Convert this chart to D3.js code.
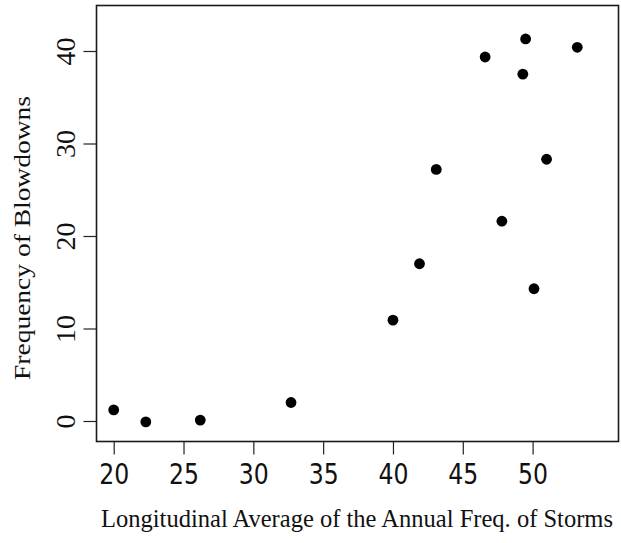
<!DOCTYPE html>
<html>
<head>
<meta charset="utf-8">
<script src="https://cdn.jsdelivr.net/npm/d3@7"></script>
<style>
  html, body { margin: 0; padding: 0; background: #fff; }
  svg { display: block; }
</style>
</head>
<body>
<script>
// Data
const stormFreq = [20.0, 22.3, 26.2, 32.7, 40.0, 41.9, 43.1, 46.6, 47.8, 49.3, 49.5, 50.1, 51.0, 53.2];
const blowdowns = [1.2, -0.1, 0.1, 2.0, 10.9, 17.0, 27.2, 39.35, 21.6, 37.5, 41.3, 14.3, 28.3, 40.4];
const xTicks = [20, 25, 30, 35, 40, 45, 50];
const yTicks = [0, 10, 20, 30, 40];
const xTitle = "Longitudinal Average of the Annual Freq. of Storms";
const yTitle = "Frequency of Blowdowns";

const W = 621, H = 543;
const box = {left: 96.5, right: 618.5, top: 5.5, bottom: 441.5};

const x = d3.scaleLinear().domain([20, 50]).range([113.7, 532.6]);
const y = d3.scaleLinear().domain([0, 40]).range([421, 51]);

const svg = d3.select("body").append("svg").attr("width", W).attr("height", H);

// frame
svg.append("rect")
  .attr("x", box.left).attr("y", box.top)
  .attr("width", box.right - box.left).attr("height", box.bottom - box.top)
  .attr("fill", "none").attr("stroke", "#1a1a1a").attr("stroke-width", 1.6);

// x axis
const xAxis = d3.axisBottom(x).tickValues(xTicks).tickSize(13).tickPadding(9).tickFormat(d3.format("d"));
const gx = svg.append("g").attr("transform", `translate(0,${box.bottom})`).call(xAxis);
gx.select(".domain").remove();
gx.selectAll(".tick line").attr("stroke", "#222").attr("stroke-width", 1.2);
gx.selectAll(".tick text")
  .attr("fill", "#111")
  .style("font-family", "'DejaVu Sans', sans-serif")
  .style("font-size", "29px")
  .attr("textLength", 30).attr("lengthAdjust", "spacingAndGlyphs");

// y axis
const yAxis = d3.axisLeft(y).tickValues(yTicks).tickSize(13).tickPadding(0).tickFormat(d3.format("d"));
const gy = svg.append("g").attr("transform", `translate(${box.left},0)`).call(yAxis);
gy.select(".domain").remove();
gy.selectAll(".tick line").attr("stroke", "#222").attr("stroke-width", 1.2);
gy.selectAll(".tick text")
  .attr("x", null).attr("dy", null)
  .attr("text-anchor", "middle")
  .attr("fill", "#111")
  .style("font-family", "'Liberation Serif', 'DejaVu Serif', serif")
  .style("font-size", "28px")
  .attr("transform", "translate(-21,0) rotate(-90) translate(0,-1)")
  .attr("y", 0);

// points
svg.append("g").selectAll("circle")
  .data(stormFreq.map((v, i) => ({x: v, y: blowdowns[i]})))
  .join("circle")
  .attr("cx", d => x(d.x)).attr("cy", d => y(d.y))
  .attr("r", 5.4).attr("fill", "#000");

// titles
svg.append("text")
  .attr("transform", "translate(357,527) scale(1,1.14)")
  .attr("text-anchor", "middle")
  .attr("fill", "#111")
  .style("font-family", "'Liberation Serif', 'DejaVu Serif', serif")
  .style("font-size", "22px")
  .attr("textLength", 512).attr("lengthAdjust", "spacingAndGlyphs")
  .text(xTitle);

svg.append("text")
  .attr("transform", "translate(30,238) rotate(-90)")
  .attr("text-anchor", "middle")
  .attr("fill", "#111")
  .style("font-family", "'Liberation Serif', 'DejaVu Serif', serif")
  .style("font-size", "24px")
  .attr("textLength", 284).attr("lengthAdjust", "spacingAndGlyphs")
  .text(yTitle);
</script>
</body>
</html>
